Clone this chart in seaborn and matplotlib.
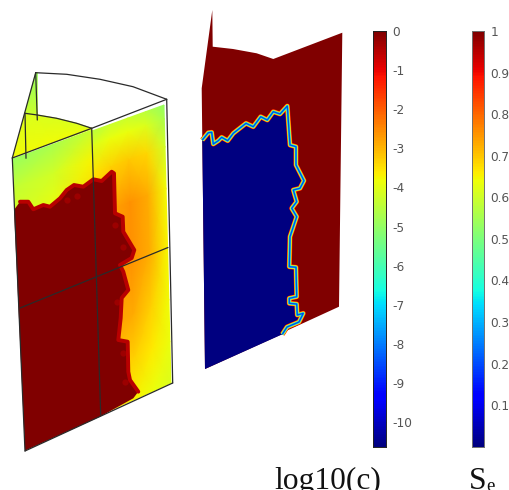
import matplotlib
matplotlib.use('Agg')
import matplotlib.pyplot as plt
import seaborn as sns
import numpy as np

sns.set_style('white')
plt.rcParams['font.family'] = ['DejaVu Sans']

W, H = 510, 490
C_MIN, C_MAX = -10.63, 0
S_MIN, S_MAX = 0, 1

# colour bars
C_TICKS = [0, -1, -2, -3, -4, -5, -6, -7, -8, -9, -10]
S_TICKS = [1, 0.9, 0.8, 0.7, 0.6, 0.5, 0.4, 0.3, 0.2, 0.1]

# left block, log10(c) on the faces
RIGHT_FACE_U = [0, 0.25, 0.5, 0.75, 1]
RIGHT_FACE_V = [0, 0.05, 0.15, 0.3, 0.5, 0.7, 0.85, 1]
RIGHT_FACE_C = [
    [-4.5, -4.3, -4.3, -4.5, -5.0],
    [-4.1, -3.9, -3.9, -4.1, -4.7],
    [-3.5, -3.3, -3.2, -3.4, -4.2],
    [-3.0, -2.8, -2.6, -2.9, -3.8],
    [-2.8, -2.7, -2.6, -2.9, -3.7],
    [-3.0, -2.8, -2.9, -3.3, -3.8],
    [-3.3, -3.2, -3.3, -3.6, -3.9],
    [-3.6, -3.6, -3.7, -3.9, -4.1],
]
LEFT_FACE_U = [0, 0.5, 1]
LEFT_FACE_V = [0, 0.1, 0.25]
LEFT_FACE_C = [
    [-4.9, -4.7, -4.3],
    [-4.4, -4.2, -3.7],
    [-4.1, -3.8, -3.3],
]
BACK_FACE_C = [-5.0, -4.3]
INNER_FACE_C = [-4.1, -3.8]
C_HIGH = 0
C_LOW = -10.63

# face corners: top left, top right, bottom left, bottom right
RIGHT_FACE_XY = [(92, 131), (164, 105), (100, 415), (171, 383)]
LEFT_FACE_XY = [(13, 159), (92, 130), (25, 451), (100, 415)]

INNER_ARC_X = [25, 37.3, 56.7, 76.7, 91.7]
INNER_ARC_Y = [113.3, 115, 118.3, 123.3, 128.3]
INNER_EDGE_X = [13, 33, 52, 72, 91.7]
INNER_EDGE_Y = [157.5, 150, 143, 136, 129]
BACK_X = [[35.7, 37.3], [25, 37.3]]
BACK_Y = [[72.7, 72.7], [113.3, 115]]

# saturated front on the left block
LEFT_FRONT_X = [14, 20, 28.3, 33.3, 43.3, 50, 60, 66.7, 74, 83.3, 93.3, 101.7, 111.7, 114,
                115, 122.7, 123.3, 134.3, 131.7, 120, 123.3, 128.3, 121.7, 120.7, 118.3,
                127.7, 128.3, 130, 138.3, 133.3, 100, 25]
LEFT_FRONT_Y = [210, 201.7, 201.7, 209.3, 205, 206.7, 198.3, 190, 185, 186.7, 179.3, 181, 171.7, 173.3,
                213.3, 216.7, 231.7, 250, 258, 265, 271.7, 290, 298, 318, 340,
                341.7, 371.7, 380, 391.7, 398.3, 416.7, 450.7]
HOT_X = [76.7, 66.7, 115, 123, 116.7, 123, 125]
HOT_Y = [195.7, 200, 225, 246.7, 301.7, 353, 381.7]

# wire frame of the left block
FRAME_LINES = [
    ([35.7, 66.7, 100, 133, 166.7], [72.7, 74.3, 79.3, 86.7, 99.3]),
    (INNER_ARC_X, INNER_ARC_Y),
    ([35.7, 12.3], [72.7, 158]),
    ([25, 26], [113.3, 158.3]),
    ([35.7, 37.3], [72.7, 120]),
    ([12.3, 91.7, 166.7], [158, 128.3, 99.3]),
    ([166.7, 172.7], [99.3, 383]),
    ([12.3, 25], [158, 451]),
    ([91.7, 100.7], [128.3, 415]),
    ([25, 172.7], [451, 383]),
    ([20, 96.7, 168], [308, 276.7, 247.5]),
]

# middle slice
SLICE_X = [212.3, 212.7, 233, 256.7, 273.3, 342.3, 339, 286.7, 281.7, 205, 201.7]
SLICE_Y = [10, 46.7, 49, 53.3, 59, 32.7, 306.7, 330.7, 334.3, 369, 88.3]
FRONT_X = [202.3, 208.3, 211.7, 213.3, 218.3, 221.7, 227.7, 233.3, 246, 253.3, 260.7, 267.3,
           273.3, 280, 287.3, 290, 296, 296, 304, 300, 293.3, 296.7, 291.7, 296.7, 290,
           289.3, 296, 296.7, 289.3, 289.3, 296.7, 297.3, 303.3, 299, 287, 282.3]
FRONT_Y = [140, 132.7, 132.3, 144, 140.7, 137.3, 140.7, 133.3, 123.3, 126.7, 116.7, 120,
           111.7, 114, 106, 145, 146.7, 165, 180.7, 188.3, 190, 201.7, 208.3, 216.7, 236.7,
           266.7, 267.3, 296.7, 298.3, 303.3, 304, 315, 313.3, 322, 327, 334.3]
BLUE_CLOSE_X = [205, 202.3]
BLUE_CLOSE_Y = [369, 140]
RIM_COLORS = ['#ff1500', '#ff9000', '#ffee00', '#70ff90', '#00d0ff', '#0050e0']
RIM_WIDTHS = [3.6, 3.0, 2.5, 2.0, 1.5, 0.9]

cmap = plt.get_cmap('jet')


def norm_c(v):
    return (v - C_MIN) / (C_MAX - C_MIN)


def face_mesh(ax, corners, us, vs, values):
    """Bilinear patch between four corners, shaded by the renderer."""
    tl, tr, bl, br = [np.array(c, dtype=float) for c in corners]
    u, v = np.meshgrid(us, vs)
    x = (1 - v) * ((1 - u) * tl[0] + u * tr[0]) + v * ((1 - u) * bl[0] + u * br[0])
    y = (1 - v) * ((1 - u) * tl[1] + u * tr[1]) + v * ((1 - u) * bl[1] + u * br[1])
    ax.pcolormesh(x, y, np.array(values), shading='gouraud', cmap=cmap, vmin=C_MIN, vmax=C_MAX)


def color_bar(x0, x1, y0, y1, vmin, vmax, ticks, edge):
    cax = fig.add_axes([x0 / W, 1 - y1 / H, (x1 - x0) / W, (y1 - y0) / H])
    ramp = np.linspace(vmax, vmin, 256)[:, None]
    sns.heatmap(ramp, ax=cax, cmap='jet', vmin=vmin, vmax=vmax, cbar=False,
                xticklabels=False, yticklabels=False)
    for s in cax.spines.values():
        s.set_visible(True)
        s.set_linewidth(0.7)
        s.set_color(edge)
    cax.set_yticks([(vmax - t) / (vmax - vmin) * 256 for t in ticks])
    cax.set_yticklabels([str(t) for t in ticks], fontsize=8.7, color='#555555')
    cax.tick_params(axis='y', which='major', left=True, right=True, labelleft=False, labelright=True,
                    direction='in', length=2.2, width=0.7, color='#222222', pad=4.5)


fig = plt.figure(figsize=(W / 100, H / 100), dpi=100)
ax = fig.add_axes([0, 0, 1, 1])
ax.set_xlim(0, W)
ax.set_ylim(H, 0)
ax.axis('off')

# left block
ax.pcolormesh(np.array(BACK_X), np.array(BACK_Y), np.array([[BACK_FACE_C[0]] * 2, [BACK_FACE_C[1]] * 2]),
              shading='gouraud', cmap=cmap, vmin=C_MIN, vmax=C_MAX)
ax.pcolormesh(np.array([INNER_ARC_X, INNER_EDGE_X]), np.array([INNER_ARC_Y, INNER_EDGE_Y]),
              np.array([[INNER_FACE_C[0]] * 5, [INNER_FACE_C[1]] * 5]),
              shading='gouraud', cmap=cmap, vmin=C_MIN, vmax=C_MAX)
face_mesh(ax, RIGHT_FACE_XY, RIGHT_FACE_U, RIGHT_FACE_V, RIGHT_FACE_C)
face_mesh(ax, LEFT_FACE_XY, LEFT_FACE_U, LEFT_FACE_V, LEFT_FACE_C)

# the rim stops short of the outer edges so it does not poke past the frame
ax.plot(LEFT_FRONT_X[1:-3], LEFT_FRONT_Y[1:-3], color='#b80000', lw=2.8, solid_joinstyle='round')
ax.fill(LEFT_FRONT_X, LEFT_FRONT_Y, color=cmap(norm_c(C_HIGH)), lw=0)
ax.scatter(HOT_X, HOT_Y, s=20, color='#9c0000', lw=0)
for xs, ys in FRAME_LINES:
    ax.plot(xs, ys, color='#2a2a2a', lw=0.9, solid_capstyle='round')

# middle slice
ax.fill(SLICE_X, SLICE_Y, color=cmap(norm_c(C_HIGH)), lw=0)
for col, lw in zip(RIM_COLORS, RIM_WIDTHS):
    ax.plot(FRONT_X, FRONT_Y, color=col, lw=lw, solid_joinstyle='round', solid_capstyle='butt')
ax.fill(FRONT_X + BLUE_CLOSE_X, FRONT_Y + BLUE_CLOSE_Y, color=cmap(norm_c(C_LOW)), lw=0)

color_bar(373.3, 385.7, 31, 446.7, C_MIN, C_MAX, C_TICKS, '#222222')
color_bar(471.7, 484.3, 31, 446.7, S_MIN, S_MAX, S_TICKS, '#707070')

# captions run off the bottom edge, as in the source picture
ax.text(274.5, 489, 'log10(c)', family='Liberation Serif', fontsize=22.7, color='#111111', va='baseline')
ax.text(469, 489, 'S', family='Liberation Serif', fontsize=22.7, color='#111111', va='baseline')
ax.text(486.5, 491, 'e', family='Liberation Serif', fontsize=13.5, color='#111111', va='baseline')

fig.savefig('out.png', dpi=100)
